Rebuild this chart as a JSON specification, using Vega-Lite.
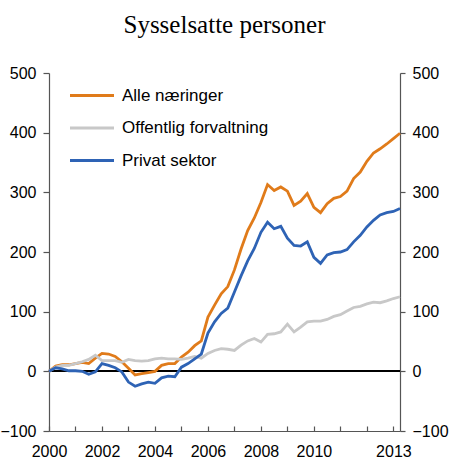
{
  "$schema": "https://vega.github.io/schema/vega-lite/v6.json",
  "width": 351,
  "height": 358,
  "autosize": "none",
  "padding": {"left": 49, "top": 73, "right": 50, "bottom": 44},
  "background": "white",
  "title": {
    "text": "Sysselsatte personer",
    "font": "Liberation Serif",
    "fontSize": 25,
    "fontWeight": "normal",
    "color": "black",
    "anchor": "middle",
    "baseline": "alphabetic",
    "offset": 7
  },
  "data": {
    "values": [
      {"t": 2000.00, "a": 0, "o": 0, "p": 0},
      {"t": 2000.25, "a": 9, "o": 7, "p": 6},
      {"t": 2000.50, "a": 11, "o": 10, "p": 4},
      {"t": 2000.75, "a": 11, "o": 10, "p": 1},
      {"t": 2001.00, "a": 13, "o": 13, "p": 1},
      {"t": 2001.25, "a": 15, "o": 16, "p": 0},
      {"t": 2001.50, "a": 13, "o": 20, "p": -5},
      {"t": 2001.75, "a": 22, "o": 27, "p": -1},
      {"t": 2002.00, "a": 30, "o": 18, "p": 13},
      {"t": 2002.25, "a": 29, "o": 18, "p": 10},
      {"t": 2002.50, "a": 25, "o": 18, "p": 6},
      {"t": 2002.75, "a": 16, "o": 15, "p": -1},
      {"t": 2003.00, "a": 5, "o": 20, "p": -18},
      {"t": 2003.25, "a": -6, "o": 18, "p": -25},
      {"t": 2003.50, "a": -4, "o": 17, "p": -21},
      {"t": 2003.75, "a": -2, "o": 18, "p": -18},
      {"t": 2004.00, "a": 0, "o": 21, "p": -20},
      {"t": 2004.25, "a": 10, "o": 22, "p": -11},
      {"t": 2004.50, "a": 13, "o": 21, "p": -8},
      {"t": 2004.75, "a": 13, "o": 21, "p": -9},
      {"t": 2005.00, "a": 24, "o": 20, "p": 7},
      {"t": 2005.25, "a": 32, "o": 22, "p": 13},
      {"t": 2005.50, "a": 43, "o": 25, "p": 21},
      {"t": 2005.75, "a": 51, "o": 22, "p": 29},
      {"t": 2006.00, "a": 91, "o": 30, "p": 64},
      {"t": 2006.25, "a": 111, "o": 35, "p": 83},
      {"t": 2006.50, "a": 130, "o": 38, "p": 97},
      {"t": 2006.75, "a": 142, "o": 37, "p": 106},
      {"t": 2007.00, "a": 170, "o": 35, "p": 133},
      {"t": 2007.25, "a": 205, "o": 44, "p": 160},
      {"t": 2007.50, "a": 236, "o": 51, "p": 185},
      {"t": 2007.75, "a": 257, "o": 55, "p": 206},
      {"t": 2008.00, "a": 283, "o": 49, "p": 233},
      {"t": 2008.25, "a": 313, "o": 62, "p": 250},
      {"t": 2008.50, "a": 303, "o": 63, "p": 239},
      {"t": 2008.75, "a": 309, "o": 66, "p": 243},
      {"t": 2009.00, "a": 302, "o": 79, "p": 223},
      {"t": 2009.25, "a": 278, "o": 66, "p": 211},
      {"t": 2009.50, "a": 285, "o": 74, "p": 210},
      {"t": 2009.75, "a": 298, "o": 83, "p": 217},
      {"t": 2010.00, "a": 275, "o": 84, "p": 191},
      {"t": 2010.25, "a": 266, "o": 84, "p": 181},
      {"t": 2010.50, "a": 281, "o": 87, "p": 195},
      {"t": 2010.75, "a": 290, "o": 92, "p": 199},
      {"t": 2011.00, "a": 293, "o": 95, "p": 200},
      {"t": 2011.25, "a": 302, "o": 101, "p": 204},
      {"t": 2011.50, "a": 323, "o": 107, "p": 217},
      {"t": 2011.75, "a": 334, "o": 109, "p": 228},
      {"t": 2012.00, "a": 352, "o": 113, "p": 242},
      {"t": 2012.25, "a": 366, "o": 116, "p": 253},
      {"t": 2012.50, "a": 373, "o": 115, "p": 262},
      {"t": 2012.75, "a": 381, "o": 118, "p": 266},
      {"t": 2013.00, "a": 390, "o": 122, "p": 268},
      {"t": 2013.25, "a": 399, "o": 125, "p": 273}
    ]
  },
  "transform": [
    {"fold": ["a", "o", "p"], "as": ["key", "value"]},
    {"lookup": "key", "from": {"data": {"values": [
      {"key": "a", "serie": "Alle næringer"},
      {"key": "o", "serie": "Offentlig forvaltning"},
      {"key": "p", "serie": "Privat sektor"}
    ]}, "key": "key", "fields": ["serie"]}}
  ],
  "layer": [
    {
      "mark": {"type": "rule", "color": "black", "strokeWidth": 1},
      "encoding": {
        "y": {
          "datum": 0,
          "type": "quantitative",
          "scale": {"domain": [-100, 500], "nice": false},
          "axis": {"orient": "right", "title": null, "labelPadding": 7, "tickSize": 5, "values": [-100, 0, 100, 200, 300, 400, 500]}
        }
      }
    },
    {
      "mark": {"type": "line", "strokeWidth": 2.8},
      "encoding": {
        "x": {
          "field": "t",
          "type": "quantitative",
          "scale": {"domain": [2000, 2013.25], "nice": false, "zero": false},
          "axis": {
            "title": null,
            "values": [2000, 2001, 2002, 2003, 2004, 2005, 2006, 2007, 2008, 2009, 2010, 2011, 2012, 2013],
            "labelExpr": "(datum.value == 2013 || (datum.value % 2 == 0 && datum.value <= 2010)) ? '' + datum.value : ''",
            "labelOverlap": false,
            "labelFlush": false,
            "tickSize": -5,
            "labelPadding": 17
          }
        },
        "y": {
          "field": "value",
          "type": "quantitative",
          "scale": {"domain": [-100, 500], "nice": false},
          "axis": {"orient": "left", "title": null, "labelPadding": 7, "values": [-100, 0, 100, 200, 300, 400, 500]}
        },
        "color": {
          "field": "serie",
          "type": "nominal",
          "scale": {
            "domain": ["Alle næringer", "Offentlig forvaltning", "Privat sektor"],
            "range": ["#E07B1A", "#C8C8C8", "#2E63B5"]
          },
          "legend": {
            "title": null,
            "orient": "none",
            "legendX": 18,
            "legendY": 14,
            "symbolType": "M-1,0H7",
            "symbolSize": 121,
            "symbolStrokeWidth": 3,
            "labelOffset": 38,
            "labelFontSize": 17,
            "labelFont": "Liberation Sans",
            "labelColor": "black",
            "rowPadding": 14.5,
            "padding": 0
          }
        }
      }
    }
  ],
  "resolve": {"axis": {"y": "independent"}},
  "config": {
    "view": {"stroke": null},
    "axis": {
      "grid": false,
      "labelFont": "Liberation Sans",
      "labelFontSize": 16,
      "labelColor": "black",
      "domainColor": "#555555",
      "tickColor": "#555555",
      "domainWidth": 1.2,
      "tickWidth": 1.2,
      "tickSize": 6,
      "labelPadding": 9
    }
  }
}
